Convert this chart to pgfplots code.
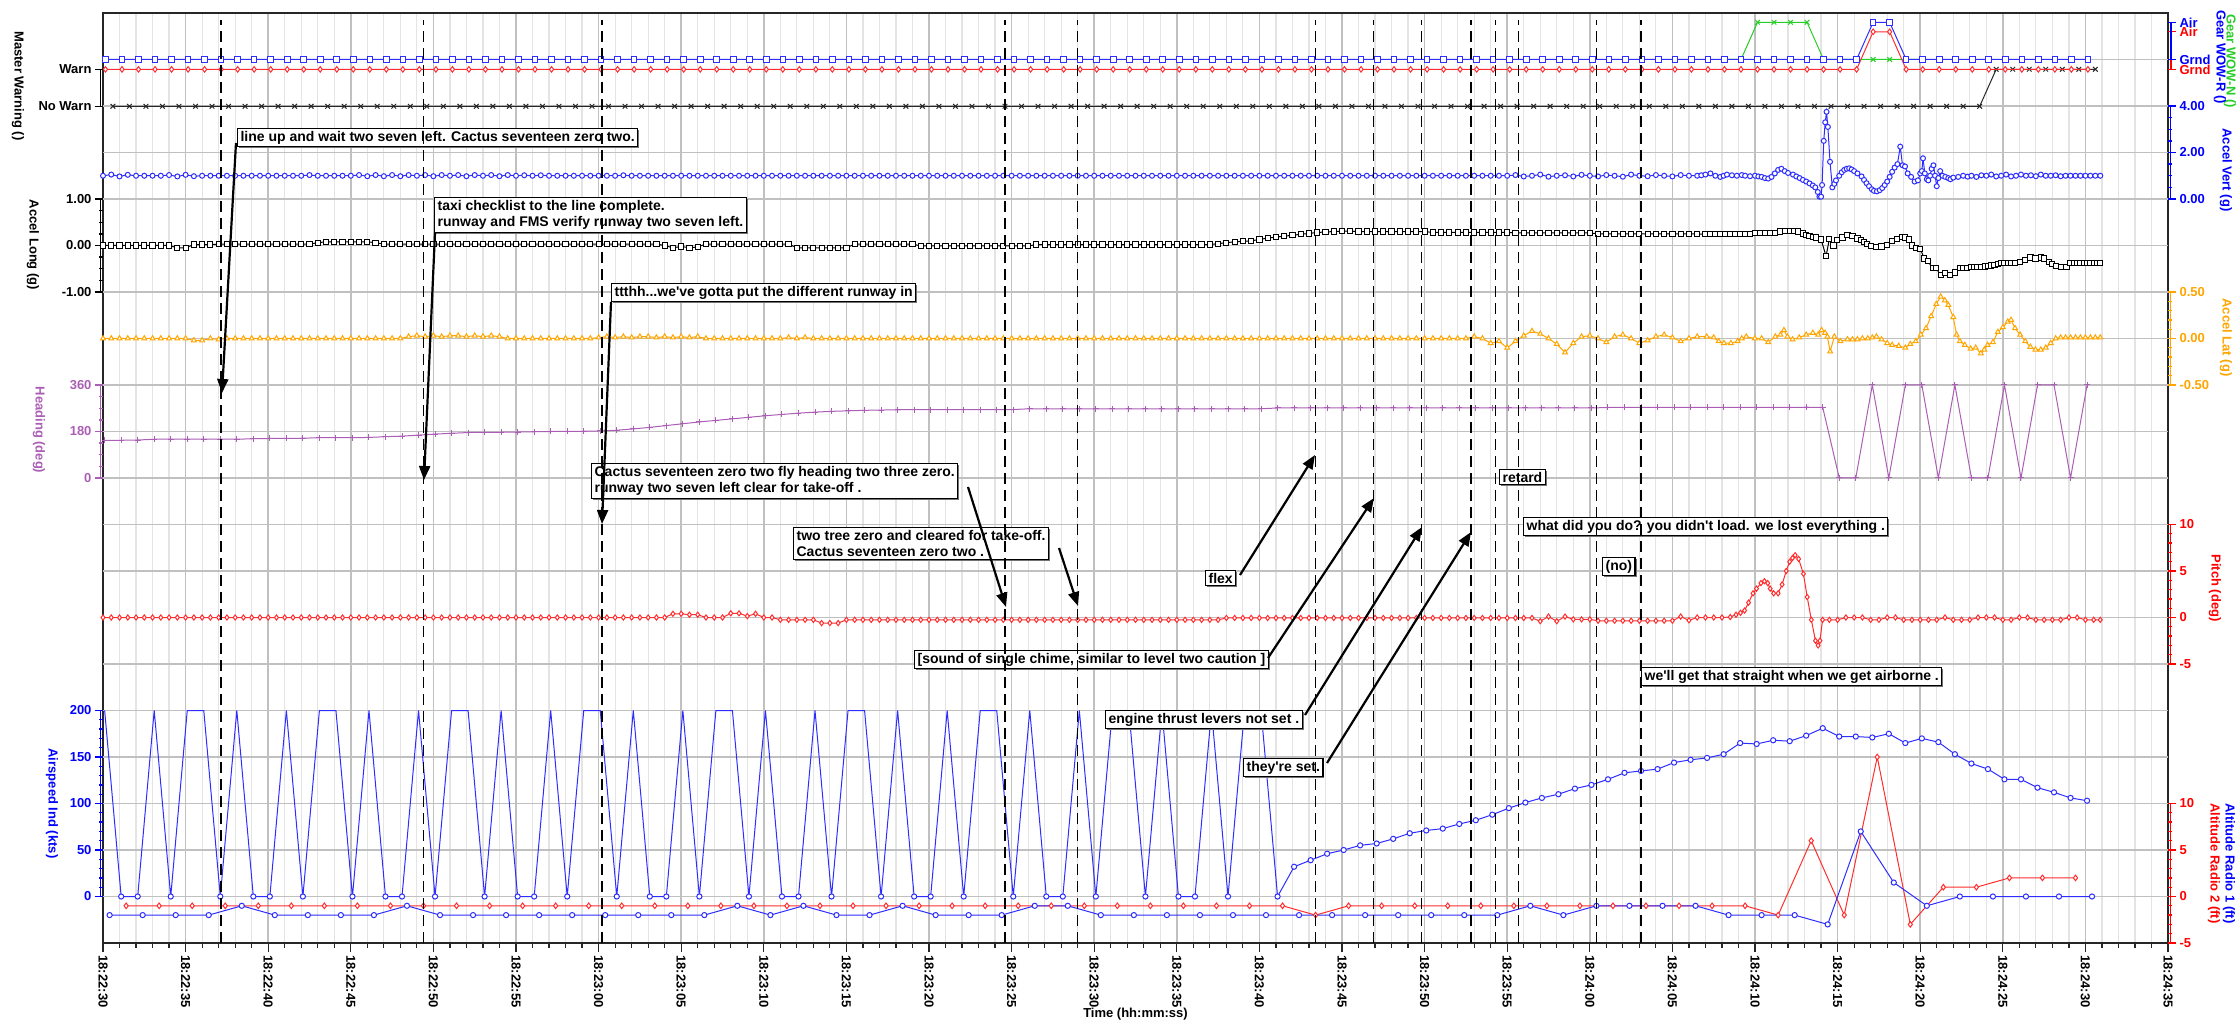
\documentclass[border=0pt]{standalone}
\usepackage{pgfplots}
\usepackage{pgfplotstable}
\pgfplotsset{compat=1.18}
\usepackage{fontspec}
\setmainfont{Liberation Sans}
\usetikzlibrary{arrows.meta,shadows}
\definecolor{cblue}{RGB}{0,0,255}
\definecolor{lblue}{RGB}{45,45,255}
\definecolor{cred}{RGB}{255,0,0}
\definecolor{lred}{RGB}{255,45,45}
\definecolor{corange}{RGB}{255,165,0}
\definecolor{cpurple}{RGB}{170,95,180}
\definecolor{cgreen}{RGB}{40,205,40}
\definecolor{gmaj}{RGB}{192,192,192}
\definecolor{gmin}{RGB}{228,228,228}
\newcommand\tf{\fontsize{13}{15}\selectfont\bfseries}
\newcommand\af{\fontsize{14}{16.6}\selectfont\bfseries}
\pgfplotsset{
 base/.style={scale only axis, width=2065pt, height=930pt, at={(103pt,80pt)}, anchor=south west, xmin=0, xmax=125, clip=false},
 ser/.style={base, hide x axis, axis line style={draw=none}, tick align=outside,
   major tick length=8pt, minor tick length=4pt,
   every tick/.append style={#1, line width=1.3pt},
   yticklabel style={font=\tf, text=#1}},
 serL/.style={ser=#1, axis y line*=left},
 serR/.style={ser=#1, axis y line*=right},
 mk/.style={mark size=#1, mark options={solid, fill=white, line width=1pt}},
}
\tikzset{ann/.style={draw=black, line width=1.2pt, fill=white, font=\af, inner xsep=3pt, inner ysep=2.5pt, align=left, anchor=north west,
   drop shadow={shadow xshift=1.5pt, shadow yshift=-1.5pt, fill=black!55, opacity=1}},
 arr/.style={line width=2.2pt, -{Triangle[length=14pt,width=11pt]}},
 lab/.style={rotate=-90, font=\tf}}

\pgfplotstableread{
t v
0.1 200
1.1 0
2.1 0
3.1 200
4.1 0
5.1 200
6.1 200
7.1 0
8.1 200
9.1 0
10.1 0
11.1 200
12.1 0
13.1 200
14.1 200
15.1 0
16.1 200
17.1 0
18.1 0
19.1 200
20.1 0
21.1 200
22.1 200
23.1 0
24.1 200
25.1 0
26.1 0
27.1 200
28.1 0
29.1 200
30.1 200
31.1 0
32.1 200
33.1 0
34.1 0
35.1 200
36.1 0
37.1 200
38.1 200
39.1 0
40.1 200
41.1 0
42.1 0
43.1 200
44.1 0
45.1 200
46.1 200
47.1 0
48.1 200
49.1 0
50.1 0
51.1 200
52.1 0
53.1 200
54.1 200
55.1 0
56.1 200
57.1 0
58.1 0
59.1 200
60.1 0
61.1 200
62.1 200
63.1 0
64.1 200
65.1 0
66.1 0
67.1 200
68.1 0
69.1 200
70.1 200
71.1 0
72.1 32
73.1 39
74.1 46
75.1 50
76.1 55
77.1 57
78.1 62
79.1 68
80.1 71
81.1 73
82.1 78
83.1 82
84.1 88
85.1 95
86.1 101
87.1 106
88.1 110
89.1 116
90.1 120
91.1 126
92.1 133
93.1 135
94.1 137
95.1 144
96.1 147
97.1 149
98.1 153
99.1 165
100.1 164
101.1 168
102.1 167
103.1 173
104.1 181
105.1 172
106.1 172
107.1 171
108.1 175
109.1 165
110.1 170
111.1 166
112.1 153
113.1 143
114.1 137
115.1 126
116.1 126
117.1 117
118.1 112
119.1 106
120.1 103
}\airspd

\pgfplotstableread{
t v
0.15 0
1.15 0
2.15 0
3.15 0
4.15 0
5.15 0
6.15 0
7.15 0
8.15 0
9.15 0
10.15 0
11.15 0
12.15 0
13.15 0
14.15 0
15.15 0
16.15 0
17.15 0
18.15 0
19.15 0
20.15 0
21.15 0
22.15 0
23.15 0
24.15 0
25.15 0
26.15 0
27.15 0
28.15 0
29.15 0
30.15 0
31.15 0
32.15 0
33.15 0
34.15 0
35.15 0
36.15 0
37.15 0
38.15 0
39.15 0
40.15 0
41.15 0
42.15 0
43.15 0
44.15 0
45.15 0
46.15 0
47.15 0
48.15 0
49.15 0
50.15 0
51.15 0
52.15 0
53.15 0
54.15 0
55.15 0
56.15 0
57.15 0
58.15 0
59.15 0
60.15 0
61.15 0
62.15 0
63.15 0
64.15 0
65.15 0
66.15 0
67.15 0
68.15 0
69.15 0
70.15 0
71.15 0
72.15 0
73.15 0
74.15 0
75.15 0
76.15 0
77.15 0
78.15 0
79.15 0
80.15 0
81.15 0
82.15 0
83.15 0
84.15 0
85.15 0
86.15 0
87.15 0
88.15 0
89.15 0
90.15 0
91.15 0
92.15 0
93.15 0
94.15 0
95.15 0
96.15 0
97.15 0
98.15 0
99.15 0
100.15 0
101.15 0
102.15 0
103.15 0
104.15 0
105.15 0
106.15 0
107.15 1
108.15 1
109.15 0
110.15 0
111.15 0
112.15 0
113.15 0
114.15 0
115.15 0
116.15 0
117.15 0
118.15 0
119.15 0
120.15 0
}\gearwow

\begin{document}
\begin{tikzpicture}
\useasboundingbox (0,0) rectangle (2237pt,1023pt);
% ---------- base axis: grid, frame, time axis
\begin{axis}[base, ymin=0, ymax=20,
  xtick={0,5,...,125}, minor xtick={0,1,...,125},
  xticklabels={18:22:30,18:22:35,18:22:40,18:22:45,18:22:50,18:22:55,18:23:00,18:23:05,18:23:10,18:23:15,18:23:20,18:23:25,18:23:30,18:23:35,18:23:40,18:23:45,18:23:50,18:23:55,18:24:00,18:24:05,18:24:10,18:24:15,18:24:20,18:24:25,18:24:30,18:24:35},
  ytick=\empty, xmajorgrids, xminorgrids,
  major grid style={gmaj, line width=1.5pt},
  minor grid style={gmin, line width=1.2pt},
  axis line style={black!85, line width=1.5pt},
  tick align=outside, xtick pos=left,
  major tick length=9pt, minor tick length=5pt,
  every tick/.append style={black!85, line width=1.2pt},
  xticklabel style={font=\tf, rotate=-90, anchor=west, black}]
\pgfplotsinvokeforeach{1,...,19}{\draw[gmaj, line width=1.5pt] (axis cs:0,#1) -- (axis cs:125,#1);}
\end{axis}

% ---------- Airspeed Ind
\begin{axis}[serL=cblue, ymin=-50, ymax=950, ytick={0,50,100,150,200}, yticklabels={0,50,100,150,200},
  minor ytick={10,20,30,40,60,70,80,90,110,120,130,140,160,170,180,190}]
\draw[cblue, line width=1.6pt] ([xshift=-2.5pt]axis cs:0,0) -- ([xshift=-2.5pt]axis cs:0,200);
\addplot[lblue, line width=1pt, mark=none] table[x=t,y=v] {\airspd};
\addplot[lblue, only marks, mark=*, mk=2.6pt, restrict y to domain=-100:199] table[x=t,y=v] {\airspd};
\end{axis}

% ---------- Altitude Radio 1 / 2
\begin{axis}[serR=cred, ymin=-5, ymax=95, ytick={-5,0,5,10}, yticklabels={-5,0,5,10},
  minor ytick={-4,-3,-2,-1,1,2,3,4,6,7,8,9}]
\draw[cred, line width=1.6pt] ([xshift=2.5pt]axis cs:125,-5) -- ([xshift=2.5pt]axis cs:125,10);
\addplot[lred, line width=1pt, mark=diamond*, mk=2.8pt] coordinates {(1.4,-1)(3.4,-1)(5.4,-1)(7.4,-1)(9.4,-1)(11.4,-1)(13.4,-1)(15.4,-1)(17.4,-1)(19.4,-1)(21.4,-1)(23.4,-1)(25.4,-1)(27.4,-1)(29.4,-1)(31.4,-1)(33.4,-1)(35.4,-1)(37.4,-1)(39.4,-1)(41.4,-1)(43.4,-1)(45.4,-1)(47.4,-1)(49.4,-1)(51.4,-1)(53.4,-1)(55.4,-1)(57.4,-1)(59.4,-1)(61.4,-1)(63.4,-1)(65.4,-1)(67.4,-1)(69.4,-1)(71.4,-1)(73.4,-2)(75.4,-1)(77.4,-1)(79.4,-1)(81.4,-1)(83.4,-1)(85.4,-1)(87.4,-1)(89.4,-1)(91.4,-1)(93.4,-1)(95.4,-1)(97.4,-1)(99.4,-1)(101.4,-2)(103.4,6)(105.4,-2)(107.4,15)(109.4,-3)(111.4,1)(113.4,1)(115.4,2)(117.4,2)(119.4,2)};
\addplot[lblue, line width=1pt, mark=*, mk=2.6pt] coordinates {(0.4,-2)(2.4,-2)(4.4,-2)(6.4,-2)(8.4,-1)(10.4,-2)(12.4,-2)(14.4,-2)(16.4,-2)(18.4,-1)(20.4,-2)(22.4,-2)(24.4,-2)(26.4,-2)(28.4,-2)(30.4,-2)(32.4,-2)(34.4,-2)(36.4,-2)(38.4,-1)(40.4,-2)(42.4,-1)(44.4,-2)(46.4,-2)(48.4,-1)(50.4,-2)(52.4,-2)(54.4,-2)(56.4,-1)(58.4,-1)(60.4,-2)(62.4,-2)(64.4,-2)(66.4,-2)(68.4,-2)(70.4,-2)(72.4,-2)(74.4,-2)(76.4,-2)(78.4,-2)(80.4,-2)(82.4,-2)(84.4,-2)(86.4,-1)(88.4,-2)(90.4,-1)(92.4,-1)(94.4,-1)(96.4,-1)(98.4,-2)(100.4,-2)(102.4,-2)(104.4,-3)(106.4,7)(108.4,1.5)(110.4,-1)(112.4,0)(114.4,0)(116.4,0)(118.4,0)(120.4,0)};
\end{axis}

% ---------- Pitch
\begin{axis}[serR=cred, ymin=-35, ymax=65, ytick={-5,0,5,10}, yticklabels={-5,0,5,10},
  minor ytick={-4,-3,-2,-1,1,2,3,4,6,7,8,9}]
\draw[cred, line width=1.6pt] ([xshift=2.5pt]axis cs:125,-5) -- ([xshift=2.5pt]axis cs:125,10);
\addplot[lred, line width=1pt, mark=diamond*, mk=2.6pt] coordinates {
(0,0)(0.5,0)(1,0)(1.5,0)(2,0)(2.5,0)(3,0)(3.5,0)(4,0)(4.5,0)(5,0)(5.5,0)(6,0)(6.5,0)(7,0)(7.5,0)(8,0)(8.5,0)(9,0)(9.5,0)
(10,0)(10.5,0)(11,0)(11.5,0)(12,0)(12.5,0)(13,0)(13.5,0)(14,0)(14.5,0)(15,0)(15.5,0)(16,0)(16.5,0)(17,0)(17.5,0)(18,0)(18.5,0)(19,0)(19.5,0)
(20,0)(20.5,0)(21,0)(21.5,0)(22,0)(22.5,0)(23,0)(23.5,0)(24,0)(24.5,0)(25,0)(25.5,0)(26,0)(26.5,0)(27,0)(27.5,0)(28,0)(28.5,0)(29,0)(29.5,0)
(30,0)(30.5,0)(31,0)(31.5,0)(32,0)(32.5,0)(33,0)(33.5,0)(34,0)(34.5,0.4)(35,0.4)(35.5,0.3)(36,0.3)(36.5,0)(37,0)(37.5,0)(38,0.45)(38.5,0.45)(39,0.15)(39.5,0.4)
(40,0)(40.5,0)(41,-0.25)(41.5,-0.25)(42,-0.25)(42.5,-0.25)(43,-0.25)(43.5,-0.6)(44,-0.6)(44.5,-0.6)(45,-0.25)(45.5,-0.25)(46,-0.25)(46.5,-0.25)(47,-0.25)(47.5,-0.25)(48,-0.25)(48.5,-0.25)(49,-0.25)(49.5,-0.25)
(50,-0.25)(50.5,-0.25)(51,-0.25)(51.5,-0.25)(52,-0.25)(52.5,-0.25)(53,-0.25)(53.5,-0.25)(54,-0.25)(54.5,-0.25)(55,-0.25)(55.5,-0.25)(56,-0.25)(56.5,-0.25)(57,-0.25)(57.5,-0.25)(58,-0.25)(58.5,-0.25)(59,-0.25)(59.5,-0.25)
(60,-0.25)(60.5,-0.25)(61,-0.25)(61.5,-0.25)(62,-0.25)(62.5,-0.25)(63,-0.25)(63.5,-0.25)(64,-0.25)(64.5,-0.25)(65,-0.25)(65.5,-0.25)(66,-0.25)(66.5,-0.25)(67,-0.25)(67.5,-0.25)(68,-0.05)(68.5,-0.05)(69,-0.05)(69.5,-0.05)
(70,-0.05)(70.5,-0.05)(71,-0.05)(71.5,-0.05)(72,-0.05)(72.5,-0.05)(73,-0.05)(73.5,-0.05)(74,-0.05)(74.5,-0.05)(75,-0.05)(75.5,-0.05)(76,-0.05)(76.5,-0.05)(77,-0.05)(77.5,-0.05)(78,-0.05)(78.5,-0.05)(79,-0.05)(79.5,-0.05)
(80,-0.05)(80.5,-0.05)(81,-0.05)(81.5,-0.05)(82,-0.05)(82.5,-0.05)(83,-0.05)(83.5,-0.05)(84,-0.05)(84.5,-0.05)(85,-0.05)(85.5,-0.05)(86,-0.05)(86.5,-0.05)(87,-0.4)(87.5,0.1)(88,-0.4)(88.5,0.1)(89,-0.2)(89.5,-0.2)
(90,-0.2)(90.5,-0.35)(91,-0.35)(91.5,-0.35)(92,-0.35)(92.5,-0.35)(93,-0.35)(93.5,-0.35)(94,-0.35)(94.5,-0.35)(95,-0.35)(95.5,0.1)(96,-0.3)(96.5,0)
(97,0)(97.5,0)(98,0)(98.5,0.05)(98.85,0.3)(99.12,0.5)(99.37,0.75)(99.61,1.6)(99.88,2.6)(100.09,3.1)(100.36,3.7)(100.57,3.9)(100.77,3.7)(100.92,3.1)(101.13,2.6)(101.4,2.6)(101.64,3.55)(101.89,5)(102.1,6)(102.27,6.4)(102.43,6.7)(102.64,6.3)(102.93,4.7)(103.16,2.2)(103.41,-0.25)(103.66,-2.5)(103.82,-3)(103.93,-2.5)(104.09,-0.25)
(104.5,-0.25)(105,-0.25)(105.5,0)(106,0)(106.5,0)(107,-0.25)(107.5,-0.25)(108,0)(108.5,0)(109,-0.25)(109.5,-0.25)(110,-0.25)(110.5,-0.25)(111,-0.25)(111.5,0)(112,-0.25)(112.5,-0.25)(113,-0.25)(113.5,0)(114,0)(114.5,0)(115,-0.25)(115.5,-0.25)(116,0)(116.5,0)(117,-0.25)(117.5,-0.25)(118,-0.25)(118.5,-0.25)(119,0)(119.5,0)(120,-0.25)(120.5,-0.25)(120.9,-0.25)};
\end{axis}

% ---------- Heading
\begin{axis}[serL=cpurple, ymin=-1800, ymax=1800, ytick={0,180,360}, yticklabels={0,180,360},
  minor ytick={45,90,135,225,270,315}]
\draw[cpurple, line width=1.6pt] ([xshift=-2.5pt]axis cs:0,0) -- ([xshift=-2.5pt]axis cs:0,360);
\addplot[cpurple, line width=1pt, mark=+, mark size=3pt] coordinates {
(0.1,146)(1.1,146)(2.1,147)(3.1,150)(4.1,150)(5.1,150)(6.1,150)(7.1,150)(8.1,150)(9.1,152)
(10.1,153)(11.1,153)(12.1,154)(13.1,156)(14.1,156)(15.1,156)(16.1,157)(17.1,160)(18.1,162)(19.1,166)
(20.1,170)(21.1,173)(22.1,176)(23.1,177)(24.1,177)(25.1,178)(26.1,179)(27.1,180)(28.1,180)(29.1,181)
(30.1,182)(31.1,185)(32.1,190)(33.1,196)(34.1,203)(35.1,210)(36.1,217)(37.1,223)(38.1,229)(39.1,235)
(40.1,241)(41.1,246)(42.1,251)(43.1,255)(44.1,258)(45.1,260)(46.1,262)(47.1,263)(48.1,264)(49.1,265)
(50.1,265)(51.1,265)(52.1,265)(53.1,265)(54.1,265)(55.1,265)(56.1,268)(57.1,268)(58.1,268)(59.1,268)
(60.1,268)(61.1,268)(62.1,268)(63.1,268)(64.1,268)(65.1,268)(66.1,268)(67.1,268)(68.1,268)(69.1,268)
(70.1,268)(71.1,271)(72.1,271)(73.1,271)(74.1,271)(75.1,271)(76.1,271)(77.1,271)(78.1,271)(79.1,271)
(80.1,271)(81.1,271)(82.1,271)(83.1,271)(84.1,271)(85.1,271)(86.1,271)(87.1,271)(88.1,271)(89.1,271)
(90.1,271)(91.1,273)(92.1,273)(93.1,273)(94.1,273)(95.1,273)(96.1,273)(97.1,273)(98.1,273)(99.1,273)
(100.1,273)(101.1,273)(102.1,273)(103.1,274)(104.1,273)(105.1,0)(106.1,0)(107.1,360)(108.1,0)(109.1,360)
(110.1,360)(111.1,0)(112.1,360)(113.1,0)(114.1,0)(115.1,360)(116.1,0)(117.1,360)(118.1,360)(119.1,0)(120.1,360)};
\end{axis}

% ---------- Accel Lat
\begin{axis}[serR=corange, ymin=-6.5, ymax=3.5, ytick={-0.5,0,0.5}, yticklabels={-0.50,0.00,0.50},
  minor ytick={-0.4,-0.3,-0.2,-0.1,0.1,0.2,0.3,0.4}]
\draw[corange, line width=1.6pt] ([xshift=2.5pt]axis cs:125,-0.5) -- ([xshift=2.5pt]axis cs:125,0.5);
\addplot[corange, line width=1pt, mark=triangle*, mk=2.8pt] coordinates {
(0,0)(0.5,0)(1,0)(1.5,0)(2,0)(2.5,0)(3,0)(3.5,0)(4,0)(4.5,0)(5,0)(5.5,-0.02)(6,-0.02)(6.5,0)(7,-0.01)(7.5,0)(8,0)(8.5,0)(9,0)(9.5,0)
(10,0)(10.5,0)(11,0)(11.5,0)(12,0)(12.5,0)(13,0)(13.5,0)(14,0)(14.5,0)(15,0)(15.5,0)(16,0)(16.5,0)(17,0)(17.5,0)(18,0)(18.5,0.02)(19,0.03)(19.5,0.02)
(20,0.03)(20.5,0.02)(21,0.03)(21.5,0.03)(22,0.02)(22.5,0.03)(23,0.02)(23.5,0.03)(24,0.02)(24.5,0)(25,0)(25.5,0)(26,0)(26.5,0)(27,0)(27.5,0)(28,0)(28.5,0)(29,0)(29.5,0)
(30,0.01)(30.5,0.02)(31,0.01)(31.5,0.02)(32,0.01)(32.5,0.02)(33,0.02)(33.5,0.01)(34,0.02)(34.5,0.01)(35,0.02)(35.5,0.01)(36,0.02)(36.5,0)(37,0)(37.5,0)(38,0)(38.5,0)(39,0)(39.5,0)
(40,0)(40.5,0)(41,0)(41.5,0.01)(42,0)(42.5,0.01)(43,0)(43.5,0)(44,0)(44.5,0)(45,0)(45.5,0)(46,0)(46.5,0)(47,0)(47.5,0)(48,0)(48.5,0)(49,0)(49.5,0)
(50,0)(50.5,0)(51,0)(51.5,0)(52,0)(52.5,0)(53,0)(53.5,0)(54,0)(54.5,0)(55,0)(55.5,0)(56,0)(56.5,0)(57,0)(57.5,0)(58,0)(58.5,0)(59,0)(59.5,0)
(60,0)(60.5,0)(61,0)(61.5,0)(62,0)(62.5,0)(63,0)(63.5,0)(64,0)(64.5,0)(65,0)(65.5,0)(66,0)(66.5,0)(67,0)(67.5,0)(68,0)(68.5,0)(69,0)(69.5,0)
(70,0)(70.5,0)(71,0)(71.5,0)(72,0)(72.5,0)(73,0)(73.5,0)(74,0)(74.5,0)(75,0)(75.5,0)(76,0)(76.5,0)(77,0)(77.5,0)(78,0)(78.5,0)(79,0)(79.5,0)
(80,0)(80.5,0)(81,0)(81.5,0)(82,0)(82.5,0)(83,0.02)(83.5,0)(84,-0.05)(84.5,-0.03)(85,-0.1)(85.5,-0.03)(86,0.03)(86.5,0.08)(87,0.05)(87.5,0)(88,-0.06)(88.5,-0.15)(89,-0.05)(89.5,0.02)
(90,0.03)(90.5,0)(91,-0.04)(91.5,0.02)(92,0.04)(92.5,0)(93,-0.05)(93.5,-0.02)(94,0.02)(94.5,0.04)(95,0.01)(95.5,-0.03)(96,0)(96.5,0.02)
(97.08,0.02)(97.5,0.01)(97.8,-0.03)(98.12,-0.05)(98.54,-0.05)(98.95,-0.03)(99.2,0)(99.47,0.02)(99.99,0)(100.4,0)(100.8,-0.04)(101.23,0.02)(101.54,0.04)(101.75,0.09)(101.96,0.02)(102.27,-0.01)(102.68,0.01)(103.1,0.04)(103.5,0.06)(103.82,0.04)(104.03,0.09)(104.24,0.06)(104.38,0.02)(104.55,-0.14)(104.8,0.02)(105.17,-0.03)(105.6,-0.01)(105.9,-0.01)(106.2,-0.01)(106.5,0)(106.83,0)(107.1,0.01)(107.35,0.02)(107.66,-0.01)(108,-0.05)(108.3,-0.07)(108.7,-0.08)(109.1,-0.1)(109.4,-0.06)(109.73,-0.03)(110.04,0.04)(110.35,0.11)(110.66,0.24)(110.97,0.37)(111.24,0.45)(111.49,0.41)(111.7,0.36)(112,0.23)(112.2,0.04)(112.4,-0.03)(112.7,-0.07)(113.05,-0.11)(113.36,-0.1)(113.67,-0.16)(113.88,-0.12)(114.08,-0.07)(114.4,-0.04)(114.7,0.07)(115,0.12)(115.3,0.18)(115.5,0.2)(115.74,0.11)(116.05,0.04)(116.36,-0.03)(116.67,-0.09)(116.98,-0.12)(117.3,-0.12)(117.6,-0.1)(117.9,-0.05)(118.2,0)(118.5,0.01)(118.8,0.01)(119.1,0.01)(119.4,0.01)(119.7,0.01)(120,0.01)(120.3,0.01)(120.6,0.01)(120.9,0.01)};
\end{axis}

% ---------- Accel Long
\begin{axis}[serL=black, ymin=-15, ymax=5, ytick={-1,0,1}, yticklabels={-1.00,0.00,1.00},
  minor ytick={-0.75,-0.5,-0.25,0.25,0.5,0.75}]
\draw[black, line width=1.6pt] ([xshift=-2.5pt]axis cs:0,-1) -- ([xshift=-2.5pt]axis cs:0,1);
\addplot[black, line width=1pt, mark=square*, mk=2.6pt] coordinates {
(0,0)(0.5,0)(1,0)(1.5,0)(2,0)(2.5,0)(3,0)(3.5,0)(4,0)(4.5,-0.05)(5,-0.05)(5.5,0.02)(6,0.02)(6.5,0.02)(7,0.03)(7.5,0.03)(8,0.03)(8.5,0.03)(9,0.03)(9.5,0.03)
(10,0.03)(10.5,0.03)(11,0.03)(11.5,0.03)(12,0.03)(12.5,0.03)(13,0.06)(13.5,0.08)(14,0.08)(14.5,0.08)(15,0.08)(15.5,0.08)(16,0.08)(16.5,0.06)(17,0.03)(17.5,0.03)(18,0.03)(18.5,0.03)(19,0.03)(19.5,0.03)
(20,0.03)(20.5,0.03)(21,0.03)(21.5,0.03)(22,0.03)(22.5,0.03)(23,0.03)(23.5,0.03)(24,0.03)(24.5,0.03)(25,0.03)(25.5,0.03)(26,0.03)(26.5,0.03)(27,0.03)(27.5,0.03)(28,0.03)(28.5,0.03)(29,0.03)(29.5,0.03)
(30,0.03)(30.5,0.03)(31,0.03)(31.5,0.03)(32,0.03)(32.5,0.03)(33,0.03)(33.5,0.03)(34,0)(34.5,-0.05)(35,-0.02)(35.5,-0.05)(36,-0.03)(36.5,0.03)(37,0.03)(37.5,0.03)(38,0.03)(38.5,0.03)(39,0.03)(39.5,0.03)
(40,0.03)(40.5,0.03)(41,0.03)(41.5,0.03)(42,-0.05)(42.5,-0.05)(43,-0.05)(43.5,-0.05)(44,-0.05)(44.5,-0.05)(45,-0.05)(45.5,0.03)(46,0.03)(46.5,0.03)(47,0.03)(47.5,0.03)(48,0.03)(48.5,0.03)(49,0.03)(49.5,-0.01)
(50,-0.01)(50.5,-0.01)(51,-0.01)(51.5,-0.01)(52,-0.01)(52.5,-0.01)(53,-0.01)(53.5,-0.01)(54,-0.01)(54.5,-0.01)(55,-0.01)(55.5,-0.01)(56,-0.01)(56.5,0.02)(57,0.02)(57.5,0.02)(58,0.02)(58.5,0.02)(59,0.02)(59.5,0.02)
(60,0.02)(60.5,0.02)(61,0.02)(61.5,0.02)(62,0.02)(62.5,0.02)(63,0.02)(63.5,0.02)(64,0.02)(64.5,0.02)(65,0.02)(65.5,0.02)(66,0.02)(66.5,0.02)(67,0.02)(67.5,0.04)(68,0.06)(68.5,0.08)(69,0.09)(69.5,0.1)
(70,0.13)(70.5,0.16)(71,0.18)(71.5,0.2)(72,0.22)(72.5,0.24)(73,0.26)(73.5,0.28)(74,0.29)(74.5,0.3)(75,0.31)(75.5,0.31)(76,0.3)(76.5,0.3)(77,0.3)(77.5,0.3)(78,0.3)(78.5,0.3)(79,0.3)(79.5,0.3)
(80,0.3)(80.5,0.28)(81,0.28)(81.5,0.28)(82,0.28)(82.5,0.28)(83,0.28)(83.5,0.28)(84,0.28)(84.5,0.28)(85,0.28)(85.5,0.27)(86,0.27)(86.5,0.27)(87,0.27)(87.5,0.27)(88,0.27)(88.5,0.27)(89,0.27)(89.5,0.27)
(90,0.27)(90.5,0.25)(91,0.25)(91.5,0.25)(92,0.25)(92.5,0.25)(93,0.25)(93.5,0.25)(94,0.25)(94.5,0.25)(95,0.25)(95.5,0.25)(96,0.25)(96.5,0.25)
(97,0.24)(97.3,0.24)(97.6,0.24)(97.9,0.24)(98.2,0.24)(98.5,0.24)(98.8,0.24)(99.1,0.24)(99.4,0.24)(99.7,0.24)(100,0.27)(100.3,0.275)(100.6,0.275)(100.9,0.275)(101.2,0.27)(101.5,0.3)(101.8,0.31)(102.1,0.31)(102.35,0.31)(102.6,0.3)(102.9,0.26)(103.1,0.23)(103.3,0.21)(103.5,0.19)(103.7,0.17)(104,0.13)(104.3,-0.23)(104.5,0.14)(104.75,0)(104.96,0.12)(105.3,0.17)(105.6,0.23)(105.9,0.2)(106.2,0.15)(106.4,0.12)(106.6,0.08)(106.8,0.03)(107,-0.01)(107.35,-0.03)(107.66,-0.02)(108,0.01)(108.3,0.1)(108.6,0.14)(108.9,0.19)(109.1,0.17)(109.3,0.13)(109.5,0)(109.73,-0.05)(110,-0.07)(110.25,-0.28)(110.45,-0.33)(110.76,-0.49)(110.97,-0.49)(111.24,-0.64)(111.49,-0.6)(111.8,-0.64)(112.1,-0.58)(112.4,-0.49)(112.6,-0.48)(112.84,-0.48)(113.05,-0.47)(113.25,-0.46)(113.45,-0.46)(113.67,-0.46)(113.9,-0.45)(114.08,-0.44)(114.3,-0.43)(114.5,-0.42)(114.7,-0.4)(114.9,-0.38)(115.1,-0.38)(115.3,-0.38)(115.5,-0.38)(115.74,-0.38)(116.05,-0.35)(116.36,-0.31)(116.67,-0.26)(116.98,-0.28)(117.3,-0.26)(117.5,-0.28)(117.8,-0.35)(118,-0.4)(118.2,-0.44)(118.5,-0.46)(118.85,-0.46)(119.05,-0.38)(119.3,-0.37)(119.5,-0.37)(119.7,-0.37)(119.9,-0.37)(120.1,-0.37)(120.3,-0.37)(120.5,-0.37)(120.7,-0.37)(120.9,-0.37)};
\end{axis}

% ---------- Accel Vert
\begin{axis}[serR=cblue, ymin=-32, ymax=8, ytick={0,2,4}, yticklabels={0.00,2.00,4.00},
  minor ytick={0.5,1,1.5,2.5,3,3.5}]
\draw[cblue, line width=1.6pt] ([xshift=2.5pt]axis cs:125,0) -- ([xshift=2.5pt]axis cs:125,4);
\addplot[lblue, line width=1pt, mark=*, mk=2.5pt] coordinates {
(0,1)(0.5,1.05)(1,0.97)(1.5,1.04)(2,1)(2.5,1)(3,1)(3.5,1)(4,1.03)(4.5,0.97)(5,1.04)(5.5,0.98)(6,1)(6.5,1)(7,1)(7.5,1)(8,1)(8.5,1)(9,1)(9.5,1)
(10,1)(10.5,1)(11,1)(11.5,1)(12,1)(12.5,1.03)(13,1)(13.5,1)(14,1)(14.5,1)(15,1)(15.5,1.03)(16,0.98)(16.5,1.03)(17,0.98)(17.5,1.03)(18,0.98)(18.5,1.03)(19,1)(19.5,1.03)
(20,0.98)(20.5,1.03)(21,1)(21.5,1.03)(22,0.98)(22.5,1.03)(23,1)(23.5,1.03)(24,0.98)(24.5,1.03)(25,1)(25.5,1.02)(26,1)(26.5,1.02)(27,1)(27.5,1)(28,1)(28.5,1)(29,1)(29.5,1)
(30,1)(30.5,1)(31,1)(31.5,1.02)(32,1)(32.5,1)(33,1)(33.5,1)(34,1)(34.5,1)(35,1)(35.5,1)(36,1)(36.5,1)(37,1)(37.5,1)(38,1)(38.5,1)(39,1)(39.5,1)
(40,1)(40.5,1)(41,1)(41.5,1)(42,1)(42.5,1)(43,1)(43.5,1)(44,1)(44.5,1)(45,1)(45.5,1)(46,1)(46.5,1)(47,1)(47.5,1)(48,1)(48.5,1)(49,1)(49.5,1)
(50,1)(50.5,1)(51,1)(51.5,1)(52,1)(52.5,1)(53,1)(53.5,1)(54,1)(54.5,1)(55,1)(55.5,1)(56,1)(56.5,1)(57,1)(57.5,1)(58,1)(58.5,1)(59,1)(59.5,1)
(60,1)(60.5,1)(61,1)(61.5,1)(62,1)(62.5,1)(63,1)(63.5,1)(64,1)(64.5,1)(65,1)(65.5,1)(66,1)(66.5,1)(67,1)(67.5,1)(68,1)(68.5,1)(69,1)(69.5,1)
(70,1)(70.5,1)(71,1)(71.5,1)(72,1)(72.5,1)(73,1)(73.5,1)(74,1)(74.5,1)(75,1)(75.5,1)(76,1)(76.5,1)(77,1)(77.5,1)(78,1)(78.5,1)(79,1)(79.5,1)
(80,1)(80.5,1)(81,1)(81.5,1)(82,1)(82.5,1)(83,1)(83.5,1)(84,1)(84.5,1)(85,1)(85.5,1.03)(86,0.97)(86.5,1)(87,1.05)(87.5,0.96)(88,1)(88.5,1.02)(89,0.97)(89.5,1.04)
(90,1)(90.5,0.97)(91,1.03)(91.5,1)(92,0.96)(92.5,1.05)(93,1)(93.5,0.98)(94,1.03)(94.5,1)(95,0.97)(95.5,1.03)(96,1)(96.5,1)
(96.75,1.02)(97,1.05)(97.3,1.1)(97.6,1)(97.9,0.95)(98.1,1)(98.3,1.05)(98.6,1.02)(98.9,1)(99.2,1.03)(99.4,1)(99.7,0.98)(100,1)(100.2,0.97)(100.4,0.95)(100.6,0.9)(100.8,0.88)(101,0.95)(101.2,1.1)(101.4,1.25)(101.6,1.3)(101.8,1.2)(102,1.12)(102.3,1.05)(102.5,0.97)(102.7,0.9)(102.9,0.82)(103.1,0.75)(103.3,0.67)(103.5,0.58)(103.65,0.5)(103.8,0.3)(103.9,0.1)(104,0.1)(104.06,0.6)(104.16,2.5)(104.25,3.3)(104.33,3.75)(104.41,3.1)(104.54,1.6)(104.68,0.5)(104.8,0.65)(104.9,0.8)(105.1,1)(105.25,1.15)(105.4,1.25)(105.55,1.3)(105.7,1.32)(105.85,1.27)(106,1.2)(106.2,1.1)(106.45,0.97)(106.6,0.82)(106.75,0.68)(106.9,0.55)(107.07,0.42)(107.2,0.35)(107.38,0.33)(107.55,0.38)(107.7,0.47)(107.85,0.6)(108,0.75)(108.15,0.95)(108.3,1.17)(108.45,1.35)(108.62,1.5)(108.79,2.25)(108.93,1.45)(109.08,1.4)(109.24,1.1)(109.45,0.95)(109.66,0.75)(109.86,0.8)(110,1.1)(110.1,1.2)(110.17,1.75)(110.28,1.1)(110.4,0.85)(110.49,0.8)(110.6,1)(110.69,1.3)(110.8,1.45)(110.9,1)(111,0.55)(111.1,0.9)(111.21,1.2)(111.35,1)(111.52,0.95)(111.7,0.9)(111.83,0.85)(112,0.92)(112.3,0.95)(112.6,1)(112.87,0.96)(113.1,1)(113.4,0.95)(113.7,1.02)(114,1)(114.3,1.05)(114.6,0.97)(114.9,1)(115.2,1.05)(115.5,0.97)(115.8,1)(116.1,1.05)(116.4,1)(116.7,1.02)(117,0.98)(117.3,1.05)(117.6,1)(117.9,1)(118.2,1.02)(118.5,0.98)(118.8,1)(119.1,1)(119.4,1)(119.7,1)(120,1)(120.3,1)(120.6,1)(120.9,1)};
\end{axis}

% ---------- Master Warning
\begin{axis}[serL=black, ymin=-22.6, ymax=2.52, ytick={0,1}, yticklabels={No Warn,Warn}]
\draw[black, line width=1.6pt] ([xshift=-2.5pt]axis cs:0,0) -- ([xshift=-2.5pt]axis cs:0,1);
\addplot[black!85, line width=1pt, mark=x, mark size=3.3pt, mark options={solid}] coordinates {
(0.6,0)(1.6,0)(2.6,0)(3.6,0)(4.6,0)(5.6,0)(6.6,0)(7.6,0)(8.6,0)(9.6,0)(10.6,0)(11.6,0)(12.6,0)(13.6,0)(14.6,0)(15.6,0)(16.6,0)(17.6,0)(18.6,0)(19.6,0)
(20.6,0)(21.6,0)(22.6,0)(23.6,0)(24.6,0)(25.6,0)(26.6,0)(27.6,0)(28.6,0)(29.6,0)(30.6,0)(31.6,0)(32.6,0)(33.6,0)(34.6,0)(35.6,0)(36.6,0)(37.6,0)(38.6,0)(39.6,0)
(40.6,0)(41.6,0)(42.6,0)(43.6,0)(44.6,0)(45.6,0)(46.6,0)(47.6,0)(48.6,0)(49.6,0)(50.6,0)(51.6,0)(52.6,0)(53.6,0)(54.6,0)(55.6,0)(56.6,0)(57.6,0)(58.6,0)(59.6,0)
(60.6,0)(61.6,0)(62.6,0)(63.6,0)(64.6,0)(65.6,0)(66.6,0)(67.6,0)(68.6,0)(69.6,0)(70.6,0)(71.6,0)(72.6,0)(73.6,0)(74.6,0)(75.6,0)(76.6,0)(77.6,0)(78.6,0)(79.6,0)
(80.6,0)(81.6,0)(82.6,0)(83.6,0)(84.6,0)(85.6,0)(86.6,0)(87.6,0)(88.6,0)(89.6,0)(90.6,0)(91.6,0)(92.6,0)(93.6,0)(94.6,0)(95.6,0)(96.6,0)(97.6,0)(98.6,0)(99.6,0)
(100.6,0)(101.6,0)(102.6,0)(103.6,0)(104.6,0)(105.6,0)(106.6,0)(107.6,0)(108.6,0)(109.6,0)(110.6,0)(111.6,0)(112.6,0)(113.6,0)(114.6,1)(115.6,1)(116.6,1)(117.6,1)(118.6,1)(119.6,1)(120.6,1)};
\end{axis}

% ---------- Gear WOW-N (green, drawn first)
\begin{axis}[serR=cgreen, ymin=-23.75, ymax=1.25, ytick=\empty]
\addplot[cgreen, line width=1pt, mark=x, mark size=3.3pt] coordinates {(98.15,0)(99.15,0)(100.15,1)(101.15,1)(102.15,1)(103.15,1)(104.15,0)(105.15,0)(106.15,0)(107.15,0)(108.15,0)(109.15,0)(110.15,0)};
\end{axis}
% ---------- Gear WOW-L (red)
\begin{axis}[serR=cred, ymin=-23.24, ymax=1.5, ytick={0,1}, yticklabels={Grnd,Air}]
\draw[cred, line width=1.6pt] ([xshift=3pt]axis cs:125,0) -- ([xshift=3pt]axis cs:125,1);
\addplot[lred, line width=1pt, mark=diamond*, mk=2.8pt] table[x=t,y=v] {\gearwow};
\end{axis}
% ---------- Gear WOW-R (blue)
\begin{axis}[serR=cblue, ymin=-23.75, ymax=1.25, ytick={0,1}, yticklabels={Grnd,Air}]
\draw[cblue, line width=1.6pt] ([xshift=3pt]axis cs:125,0) -- ([xshift=3pt]axis cs:125,1);
\addplot[lblue, line width=1pt, mark=square*, mk=2.8pt] table[x=t,y=v] {\gearwow};
\end{axis}

% ---------- axis titles
\node[lab] at (18pt,937pt) {Master Warning ()};
\node[lab] at (33pt,778pt) {Accel Long (g)};
\node[lab, text=cpurple] at (39pt,593pt) {Heading (deg)};
\node[lab, text=cblue] at (52pt,219.5pt) {Airspeed Ind (kts)};
\node[lab, text=cgreen] at (2230pt,962pt) {Gear WOW-N ()};
\node[lab, text=cblue] at (2220pt,966pt) {Gear WOW-R ()};
\node[lab, text=cblue] at (2226pt,853pt) {Accel Vert (g)};
\node[lab, text=corange] at (2226pt,685.5pt) {Accel Lat (g)};
\node[lab, text=cred] at (2215pt,435pt) {Pitch (deg)};
\node[lab, text=cblue] at (2229pt,159.5pt) {Altitude Radio 1 (ft)};
\node[lab, text=cred] at (2214pt,159.5pt) {Altitude Radio 2 (ft)};
\node[font=\tf] at (1135.5pt,9pt) {Time (hh:mm:ss)};

% ---------- annotation boxes
\node[ann] at (237pt,895pt) {line up and wait two seven left. Cactus seventeen zero two.};
\node[ann] at (434pt,826pt) {taxi checklist to the line complete.\\runway and FMS verify runway two seven left.};
\node[ann] at (611pt,740pt) {ttthh...we\textquotesingle ve gotta put the different runway in};
\node[ann] at (591pt,560pt) {Cactus seventeen zero two fly heading two three zero.\\runway two seven left clear for take-off .};
\node[ann] at (793pt,496pt) {two tree zero and cleared for take-off.\\Cactus seventeen zero two .};
\node[ann] at (1205pt,453pt) {flex};
\node[ann] at (914pt,373pt) {[sound of single chime, similar to level two caution ]};
\node[ann] at (1105pt,313pt) {engine thrust levers not set .};
\node[ann] at (1243pt,265pt) {they\textquotesingle re set.};
\node[ann] at (1499pt,554pt) {retard};
\node[ann] at (1523pt,506pt) {what did you do? you didn\textquotesingle t load. we lost everything .};
\node[ann] at (1602pt,466pt) {(no)};
\node[ann] at (1641pt,356pt) {we\textquotesingle ll get that straight when we get airborne .};

% ---------- event lines
\begin{axis}[base, hide x axis, hide y axis, ymin=0, ymax=20]
\pgfplotsinvokeforeach{7.15,19.4,30.2,54.6,59.0,73.4,76.9,79.8,82.8,84.3,85.7,90.4,93.1}{
  \draw[black, line width=1.3pt, dash pattern=on 11pt off 6pt] (axis cs:#1,0) -- (axis cs:#1,19.85);}
\end{axis}

% ---------- arrows
\draw[arr] (236pt,880pt) -- (222pt,630pt);
\draw[arr] (435pt,790pt) -- (424pt,543pt);
\draw[arr] (611pt,721pt) -- (602pt,499pt);
\draw[arr] (968pt,536pt) -- (1006pt,416pt);
\draw[arr] (1059pt,475pt) -- (1078pt,417pt);
\draw[arr] (1240pt,448pt) -- (1315pt,568pt);
\draw[arr] (1268pt,365pt) -- (1374pt,525pt);
\draw[arr] (1305pt,308pt) -- (1422pt,496pt);
\draw[arr] (1327pt,260pt) -- (1471pt,491pt);
\end{tikzpicture}
\end{document}
